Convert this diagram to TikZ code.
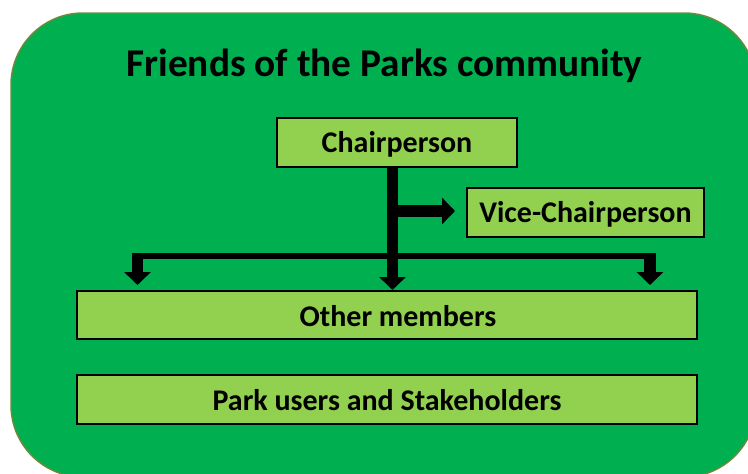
\documentclass[tikz,border=0pt]{standalone}
\usepackage{fontspec}
\setmainfont{Carlito}
\usetikzlibrary{arrows.meta}
\definecolor{bggreen}{RGB}{0,175,80}
\definecolor{boxgreen}{RGB}{146,208,80}
\definecolor{rimgreen}{RGB}{108,138,62}
\tikzset{
  orgbox/.style={draw=black, line width=2pt, fill=boxgreen, inner sep=0pt,
    font=\fontsize{30}{32}\selectfont\bfseries, text=black,
    text height=19pt, text depth=0pt},
  stem/.style={line width=11.5pt, -{Triangle[width=26pt,length=13pt]}},
  bar/.style={line width=6pt},
}
\begin{document}
\begin{tikzpicture}[x=1pt,y=-1pt]
\useasboundingbox (0,0) rectangle (748,474);
% outer rounded panel
\draw[fill=bggreen, draw=rimgreen, line width=1.5pt, rounded corners=72pt] (11,13) rectangle (756,477);
% title
\node[anchor=base, font=\fontsize{39.3}{41}\selectfont\bfseries] (title) at (384.5,76) {Friends of the Parks community};
% boxes
\node[orgbox, minimum width=240pt, minimum height=49pt] (chair) at (397,142.5) {Chairperson};
\node[orgbox, minimum width=237pt, minimum height=49pt] (vice) at (585.5,212.5) {Vice-Chairperson};
\node[orgbox, minimum width=620pt, minimum height=48pt] (others) at (387,315) {\hspace*{22pt}\raisebox{-2pt}{Other members}};
\node[orgbox, minimum width=620pt, minimum height=49pt] (users) at (387,399.5) {\raisebox{-1.5pt}{Park users and Stakeholders}};
% connectors
\coordinate (tx) at (392.5,211);
\coordinate (hl) at (137.5,256);
\coordinate (hr) at (650,256);
\draw[bar] ([xshift=-5.75pt]hl) -- ([xshift=5.75pt]hr);
\draw[stem] (chair.south -| tx) -- (others.north -| tx);
\draw[stem, shorten >=11pt] ([xshift=5pt]tx) -- (vice.west |- tx);
\draw[stem, shorten >=5pt] ([yshift=3pt]hl) -- (others.north -| hl);
\draw[stem, shorten >=5pt] ([yshift=3pt]hr) -- (others.north -| hr);
\end{tikzpicture}
\end{document}
